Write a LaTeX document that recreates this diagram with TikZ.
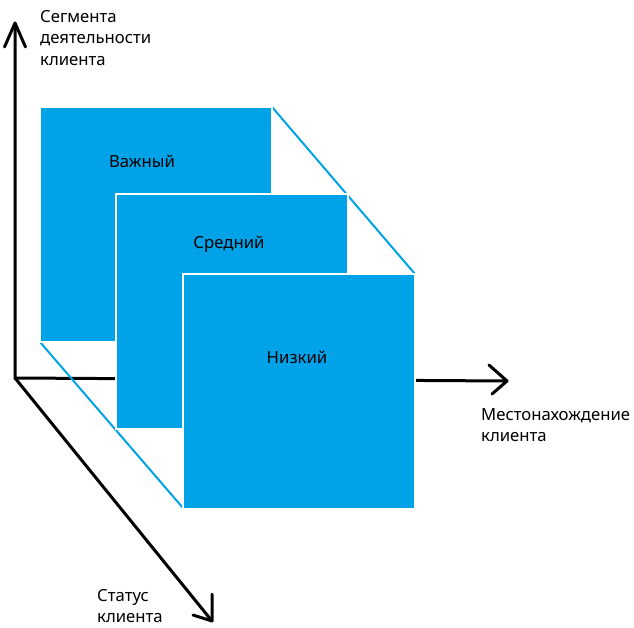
\documentclass[tikz,border=0pt]{standalone}
\usepackage{fontspec}
\setmainfont{Noto Sans}
\definecolor{paintblue}{RGB}{0,162,232}
\begin{document}
\begin{tikzpicture}[x=1pt,y=-1pt,
  axis/.style={line width=3pt,black},
  headline/.style={line width=3pt,black,line cap=round,line join=round},
  panel/.style={fill=paintblue,draw=white,line width=1.5pt,inner sep=0pt,outer sep=0pt,anchor=north west,minimum width=232pt,minimum height=235pt},
  guide/.style={line width=2pt,paintblue},
  lbl/.style={font=\fontsize{16.7}{21.5}\selectfont,inner sep=0pt,text=black},
  axlbl/.style={lbl,align=left,anchor=north west}]
\useasboundingbox (0,0) rectangle (634,628);
% axes
\coordinate (O) at (15,378);
\coordinate (Ytip) at (15,23);
\coordinate (Xtip) at (507,381);
\coordinate (Ztip) at (212,621);
\draw[axis] (Ytip) -- (O) -- (Xtip);
\draw[axis] (O) -- (Ztip);
\draw[headline] (4.5,47) -- (Ytip) -- (25.5,47);
\draw[headline] (489,365) -- (Xtip) -- (492,394);
\draw[headline] (193,615) -- (Ztip) -- (212,594);
% guide lines
\coordinate (bNE) at (272,107);
\coordinate (bSW) at (40,342);
\coordinate (fNE) at (415,274);
\coordinate (fSW) at (183,508);
\draw[guide] (bNE) -- (fNE);
\draw[guide] (bSW) -- (fSW);
% panels
\node[panel] (back) at (40,107) {};
\node[panel] (middle) at (116,194) {};
\node[panel] (front) at (183,274) {};
\node[lbl,anchor=base] (vazh) at (142,168) {Важный};
\node[lbl,anchor=base] (sred) at (229,249) {Средний};
\node[lbl,anchor=base] (nizk) at (297,363) {Низкий};
% axis labels
\node[axlbl] (ylab) at (40,10.2) {Сегмента\\деятельности\\клиента};
\node[axlbl] (xlab) at (481,408.2) {Местонахождение\\клиента};
\node[axlbl] (zlab) at (97,589.2) {Статус\\клиента};
\end{tikzpicture}
\end{document}
